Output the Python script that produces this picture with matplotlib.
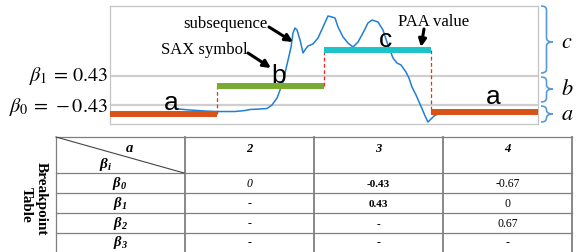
import matplotlib
matplotlib.use('Agg')
import matplotlib.pyplot as plt
from matplotlib.path import Path
from matplotlib.patches import PathPatch

plt.rcParams['mathtext.fontset'] = 'stix'
plt.rcParams['mathtext.rm'] = 'Liberation Serif'
plt.rcParams['mathtext.it'] = 'Liberation Serif:italic'
plt.rcParams['mathtext.bf'] = 'Liberation Serif:italic:bold'

# ---- data ----
paa_values = [-0.70, 0.13, 1.19, -0.64]
sax_symbols = ['a', 'b', 'c', 'a']
breakpoints = [-0.43, 0.43]
breakpoint_labels = [r'$\beta_0\,=\,-0.43$', r'$\beta_1\,=\,0.43$']

curve_x = [0.636, 0.748, 0.888, 1.000, 1.168, 1.262, 1.308, 1.402, 1.467, 1.514,
           1.561, 1.607, 1.636, 1.664, 1.692, 1.710, 1.729, 1.748, 1.776, 1.804,
           1.822, 1.850, 1.897, 1.944, 1.991, 2.037, 2.075, 2.103, 2.131, 2.178,
           2.224, 2.271, 2.318, 2.364, 2.411, 2.449, 2.505, 2.551, 2.598, 2.645,
           2.682, 2.720, 2.766, 2.794, 2.822, 2.860, 2.897, 2.925, 2.953, 2.972,
           3.000, 3.028, 3.065, 3.112]
curve_y = [-0.555, -0.585, -0.615, -0.630, -0.630, -0.600, -0.570, -0.555, -0.541, -0.437,
           -0.229, 0.157, 0.513, 0.898, 1.284, 1.699, 1.847, 1.788, 1.491, 1.106,
           1.195, 1.313, 1.373, 1.551, 1.877, 2.203, 2.174, 2.144, 1.877, 1.580,
           1.402, 1.284, 1.432, 1.699, 1.996, 2.085, 2.025, 1.788, 1.343, 0.957,
           0.809, 0.750, 0.542, 0.364, 0.097, -0.140, -0.407, -0.615, -0.822, -0.941,
           -0.852, -0.763, -0.704, -0.674]

alphabet_sizes = ['2', '3', '4']
row_labels = [r'$\mathbf{\beta_0}$', r'$\mathbf{\beta_1}$', r'$\mathbf{\beta_2}$', r'$\mathbf{\beta_3}$']
table_values = [['0', '-', '-', '-'],
                ['-0.43', '0.43', '-', '-'],
                ['-0.67', '0', '0.67', '-']]

bar_colors = ['#d95319', '#77ac30', '#1cc3c8', '#d95319']

fig = plt.figure(figsize=(5.81, 2.52), dpi=100, facecolor='w')

# ---- top chart ----
ax = fig.add_axes([110/581, 1-124/252, 428/581, 118/252])
ax.set_xlim(0, 4)
ax.set_ylim(-1.0, 2.5)
ax.set_xticks([])
ax.set_yticks([])
for s in ax.spines.values():
    s.set_color('#c4c4c4')
    s.set_linewidth(0.9)

for b in breakpoints:
    ax.axhline(b, color='#cfcfcf', lw=1.6, zorder=1)

ax.plot(curve_x, curve_y, color='#1f7fd6', lw=1.1, zorder=2)

for i, v in enumerate(paa_values):
    ax.plot([i, i+1], [v, v], color=bar_colors[i], lw=4.3, solid_capstyle='butt', zorder=3)
    if i > 0:
        ax.plot([i, i], [paa_values[i-1], v], color='#ff2020', lw=0.9, ls=(0, (3, 2)), zorder=2.5)

# ---- overlay in pixel coords ----
ov = fig.add_axes([0, 0, 1, 1], zorder=5)
ov.set_xlim(0, 581)
ov.set_ylim(252, 0)
ov.axis('off')
ov.patch.set_alpha(0)

# SAX symbols
sym_pos = [(171, 110), (279, 83), (385, 47), (493, 104)]
for s, (x, y) in zip(sax_symbols, sym_pos):
    ov.text(x, y, s, fontsize=19, family='Liberation Sans', ha='center', va='baseline')

# breakpoint labels
ov.text(108, 112, breakpoint_labels[0], fontsize=14.5, ha='right', va='baseline')
ov.text(108, 81, breakpoint_labels[1], fontsize=14.5, ha='right', va='baseline')

# annotations
serif = 'Liberation Serif'
ov.text(225, 28, 'subsequence', fontsize=12, family=serif, ha='center', va='baseline')
ov.text(204, 54, 'SAX symbol', fontsize=12, family=serif, ha='center', va='baseline')
ov.text(434, 26, 'PAA value', fontsize=12, family=serif, ha='center', va='baseline')
arw = dict(arrowstyle='-|>', color='k', lw=2.2, mutation_scale=11, shrinkA=0, shrinkB=0)
ov.annotate('', xy=(293, 42), xytext=(269, 27), arrowprops=arw)
ov.annotate('', xy=(271, 68), xytext=(248, 53), arrowprops=arw)
ov.annotate('', xy=(421, 47), xytext=(424, 29), arrowprops=arw)


def brace(y0, y1, ym, x0=541, xm=546.5, xt=553, r=4):
    verts = [(x0, y0), (xm, y0), (xm, y0+r),
             (xm, ym-r), (xm, ym), (xt, ym),
             (xm, ym), (xm, ym+r),
             (xm, y1-r), (xm, y1), (x0, y1)]
    codes = [Path.MOVETO, Path.CURVE3, Path.CURVE3,
             Path.LINETO, Path.CURVE3, Path.CURVE3,
             Path.CURVE3, Path.CURVE3,
             Path.LINETO, Path.CURVE3, Path.CURVE3]
    ov.add_patch(PathPatch(Path(verts, codes), fill=False, ec='#5b9bd5', lw=1.2))


brace(6, 73, 42)
brace(77, 102, 89)
brace(106, 122, 114)
for s, y in zip(['c', 'b', 'a'], [42, 89, 114]):
    ov.text(567, y, '$' + s + '$', fontsize=16, ha='center', va='center')

# ---- breakpoint table ----
col_x = [56, 185, 314, 443, 572]
row_y = [137, 173, 193, 213, 233]
lc = '#7f7f7f'
for y in row_y:
    ov.plot([56, 572], [y, y], color=lc, lw=0.9)
for x in col_x:
    ov.plot([x, x], [137, 252], color=lc, lw=1.3 if x > 56 else 0.9)
ov.plot([56, 184], [137, 173], color='#444444', lw=0.8)

ov.text(129, 152, r'$\mathbf{a}$', fontsize=10.5, math_fontfamily='custom', ha='center', va='baseline')
ov.text(106, 168, r'$\mathbf{\beta_i}$', fontsize=11, math_fontfamily='custom', ha='center', va='baseline')

centers = [(a + b) / 2 for a, b in zip(col_x[1:-1], col_x[2:])]
for k, (cx, h) in enumerate(zip(centers, alphabet_sizes)):
    ov.text(cx, 152, h, fontsize=9, family=serif, fontweight='bold', fontstyle='italic',
            ha='center', va='baseline')

row_base = [187, 207, 227, 246]
for lab, y in zip(row_labels, row_base):
    ov.text(120, y, lab, fontsize=10.5, math_fontfamily='custom', ha='center', va='baseline')

for k, (cx, col) in enumerate(zip(centers, table_values)):
    for j, (val, y) in enumerate(zip(col, row_base)):
        kw = dict(fontsize=8.5, family=serif, ha='center', va='baseline')
        if k == 0 and j == 0:
            kw['fontstyle'] = 'italic'
        if k == 1 and j < 3:
            kw['fontweight'] = 'bold'
            kw['fontsize'] = 8
        ov.text(cx, y, val, **kw)

ov.text(41, 199, 'Breakpoint', fontsize=11, family=serif, fontweight='bold',
        rotation=-90, ha='center', va='center')
ov.text(26, 205, 'Table', fontsize=11, family=serif, fontweight='bold',
        rotation=-90, ha='center', va='center')

fig.savefig('out.png', dpi=100)
